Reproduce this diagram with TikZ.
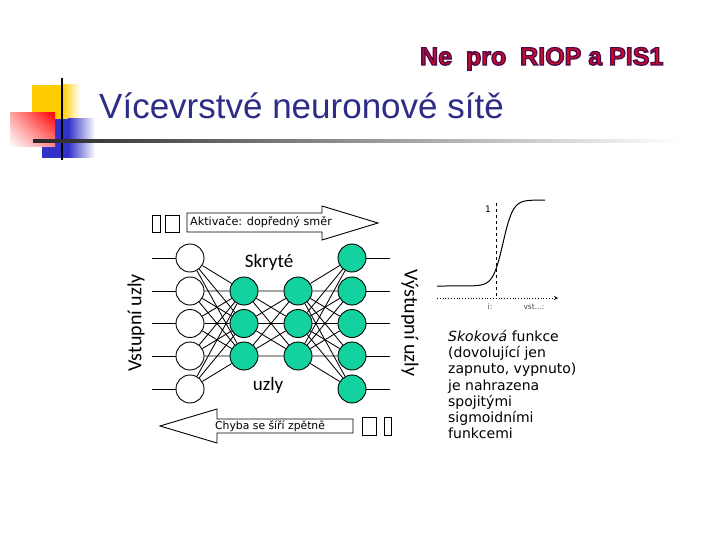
\documentclass[tikz,border=0pt]{standalone}
\usepackage{fontspec}
\setmainfont{DejaVu Sans}
\newfontfamily\calib{Carlito}
\newfontfamily\titlefont{Liberation Sans}
\usepackage{tikz}
\usetikzlibrary{positioning,arrows,shadings}

\definecolor{neurongreen}{RGB}{20,210,160}
\definecolor{titleblue}{RGB}{45,45,135}
\definecolor{notered}{RGB}{205,10,40}
\definecolor{decoyellow}{RGB}{255,204,0}
\definecolor{decoblue}{RGB}{50,50,200}

% red heading with a dark outline
\newcommand{\outlined}[1]{\special{pdf:code 0.3 0.04 0.3 RG 1.3 w 2 Tr}#1\special{pdf:code 0 Tr 0.4 w}}

\begin{document}
\begin{tikzpicture}[x=1pt,y=-1pt,
	innode/.style={circle,draw=black,fill=white,minimum size=28pt,inner sep=0pt,line width=0.9pt},
	hidnode/.style={innode,fill=neurongreen},
	wire/.style={line width=0.85pt},
	bigarrow/.style={draw=black,fill=white,line width=0.9pt},
	glyphbox/.style={draw=black,line width=0.8pt},
	layerlabel/.style={font=\calib\fontsize{19}{21}\selectfont,inner sep=0pt}]

			\fill[white] (0,0) rectangle (720,540);

			%corner decoration
			\fill[decoyellow] (32,85) rectangle (62,119);
			\shade[left color=decoyellow,right color=white] (62,85) rectangle (80,119);
			\fill[decoblue] (42,119) rectangle (68,158);
			\shade[left color=decoblue,right color=white] (68,119) rectangle (95,158);
			\shade[upper left=red!35,upper right=red,lower left=white,lower right=red!45] (10,113) rectangle (55,147);
			\draw[line width=2.5pt] (62,78) -- (62,160);
			\shade[left color=black!85,right color=white] (33,140) rectangle (680,142.5);

			%title
			\node[anchor=base west,inner sep=0pt,text=titleblue,font=\titlefont\fontsize{35}{38}\selectfont] (title) at (99,119) {Vícevrstvé neuronové sítě};

			%input nodes
			\node[innode] (i1) at (190,258) {};
			\node[innode] (i2) at (190,291) {};
			\node[innode] (i3) at (190,323.5) {};
			\node[innode] (i4) at (190,356) {};
			\node[innode] (i5) at (190,389) {};

			%hidden nodes
			\node[hidnode] (h1) at (244,291) {};
			\node[hidnode] (h2) at (244,323.5) {};
			\node[hidnode] (h3) at (244,356) {};
			\node[hidnode] (g1) at (298,291) {};
			\node[hidnode] (g2) at (298,323.5) {};
			\node[hidnode] (g3) at (298,356) {};

			%output nodes
			\node[hidnode] (o1) at (352,258) {};
			\node[hidnode] (o2) at (352,291) {};
			\node[hidnode] (o3) at (352,323.5) {};
			\node[hidnode] (o4) at (352,356) {};
			\node[hidnode] (o5) at (352,389) {};

			%free wire ends
			\coordinate (a1) at (152,258);
			\coordinate (a2) at (152,291);
			\coordinate (a3) at (152,323.5);
			\coordinate (a4) at (152,356);
			\coordinate (a5) at (152,389);
			\coordinate (b1) at (390,258);
			\coordinate (b2) at (390,291);
			\coordinate (b3) at (390,323.5);
			\coordinate (b4) at (390,356);
			\coordinate (b5) at (390,389);

			%edges
			\draw[wire] (a1) -- (i1) (a2) -- (i2) (a3) -- (i3) (a4) -- (i4) (a5) -- (i5);
			\draw[wire] (o1) -- (b1) (o2) -- (b2) (o3) -- (b3) (o4) -- (b4) (o5) -- (b5);
			\draw[wire] (i1) -- (h1) (i1) -- (h2) (i1) -- (h3);
			\draw[wire] (i2) -- (h1) (i2) -- (h2) (i2) -- (h3);
			\draw[wire] (i3) -- (h1) (i3) -- (h2) (i3) -- (h3);
			\draw[wire] (i4) -- (h1) (i4) -- (h2) (i4) -- (h3);
			\draw[wire] (i5) -- (h1) (i5) -- (h2) (i5) -- (h3);
			\draw[wire] (h1) -- (g1) (h1) -- (g2) (h1) -- (g3);
			\draw[wire] (h2) -- (g1) (h2) -- (g2) (h2) -- (g3);
			\draw[wire] (h3) -- (g1) (h3) -- (g2) (h3) -- (g3);
			\draw[wire] (g1) -- (o1) (g1) -- (o2) (g1) -- (o3) (g1) -- (o4) (g1) -- (o5);
			\draw[wire] (g2) -- (o1) (g2) -- (o2) (g2) -- (o3) (g2) -- (o4) (g2) -- (o5);
			\draw[wire] (g3) -- (o1) (g3) -- (o2) (g3) -- (o3) (g3) -- (o4) (g3) -- (o5);

			%layer labels
			\node[layerlabel,anchor=base] (skryte) at (269,267) {Skryté};
			\node[layerlabel,anchor=base] (uzly) at (268,390) {uzly};
			\node[layerlabel,rotate=90,font=\calib\fontsize{20}{22}\selectfont] (vstup) at (136,323) {Vstupní uzly};
			\node[layerlabel,rotate=-90,font=\calib\fontsize{20}{22}\selectfont] (vystup) at (410,323) {Výstupní uzly};

			%forward arrow
			\draw[bigarrow] (187,213) -- (322,213) -- (322,206) -- (378,223) -- (322,240) -- (322,232) -- (187,232) -- cycle;
			\node[anchor=west,inner sep=0pt,font=\fontsize{11.2}{12}\selectfont] (akt) at (190,222.5) {Aktivače: dopředný směr};
			\draw[glyphbox] (152,215) rectangle (160,232) (165,215) rectangle (179,232);

			%backward arrow
			\draw[bigarrow] (353,419) -- (217,419) -- (217,409) -- (160,426) -- (217,443) -- (217,433) -- (353,433) -- cycle;
			\node[anchor=west,inner sep=0pt,font=\fontsize{10.8}{12}\selectfont] (chyba) at (215,426) {Chyba se šíří zpětně};
			\draw[glyphbox] (362,417) rectangle (376,435) (384,417) rectangle (391,435);

			%sigmoid
			\draw[dotted,line width=0.8pt,-stealth] (437,298) -- (558,298);
			\draw[dashed,line width=0.8pt] (496,203) -- (496,298);
			\draw[line width=1pt,domain=437:545,samples=80,smooth] plot (\x,{243-43*tanh((\x-503)/10)});
			\node[font=\fontsize{9}{10}\selectfont,inner sep=0pt] (one) at (488,209) {1};
			\node[font=\fontsize{7.5}{8}\selectfont,text=black!70,inner sep=0pt] (x0) at (490,307) {i:};
			\node[font=\fontsize{7.5}{8}\selectfont,text=black!70,inner sep=0pt] (xl) at (534,307) {vst...:};

			%description
			\node[anchor=west,align=left,inner sep=0pt,font=\fontsize{14}{16.3}\selectfont] (popis) at (448,384.5) {\textit{Skoková} funkce\\(dovolující jen\\zapnuto, vypnuto)\\je nahrazena\\spojitými\\sigmoidními\\funkcemi};

			%heading note
			\node[anchor=base west,inner sep=0pt,text=notered,font=\titlefont\bfseries\fontsize{25}{28}\selectfont] (note) at (420,65) {\outlined{Ne\ \ pro\ \ RIOP a PIS1}};
		\end{tikzpicture}
\end{document}
